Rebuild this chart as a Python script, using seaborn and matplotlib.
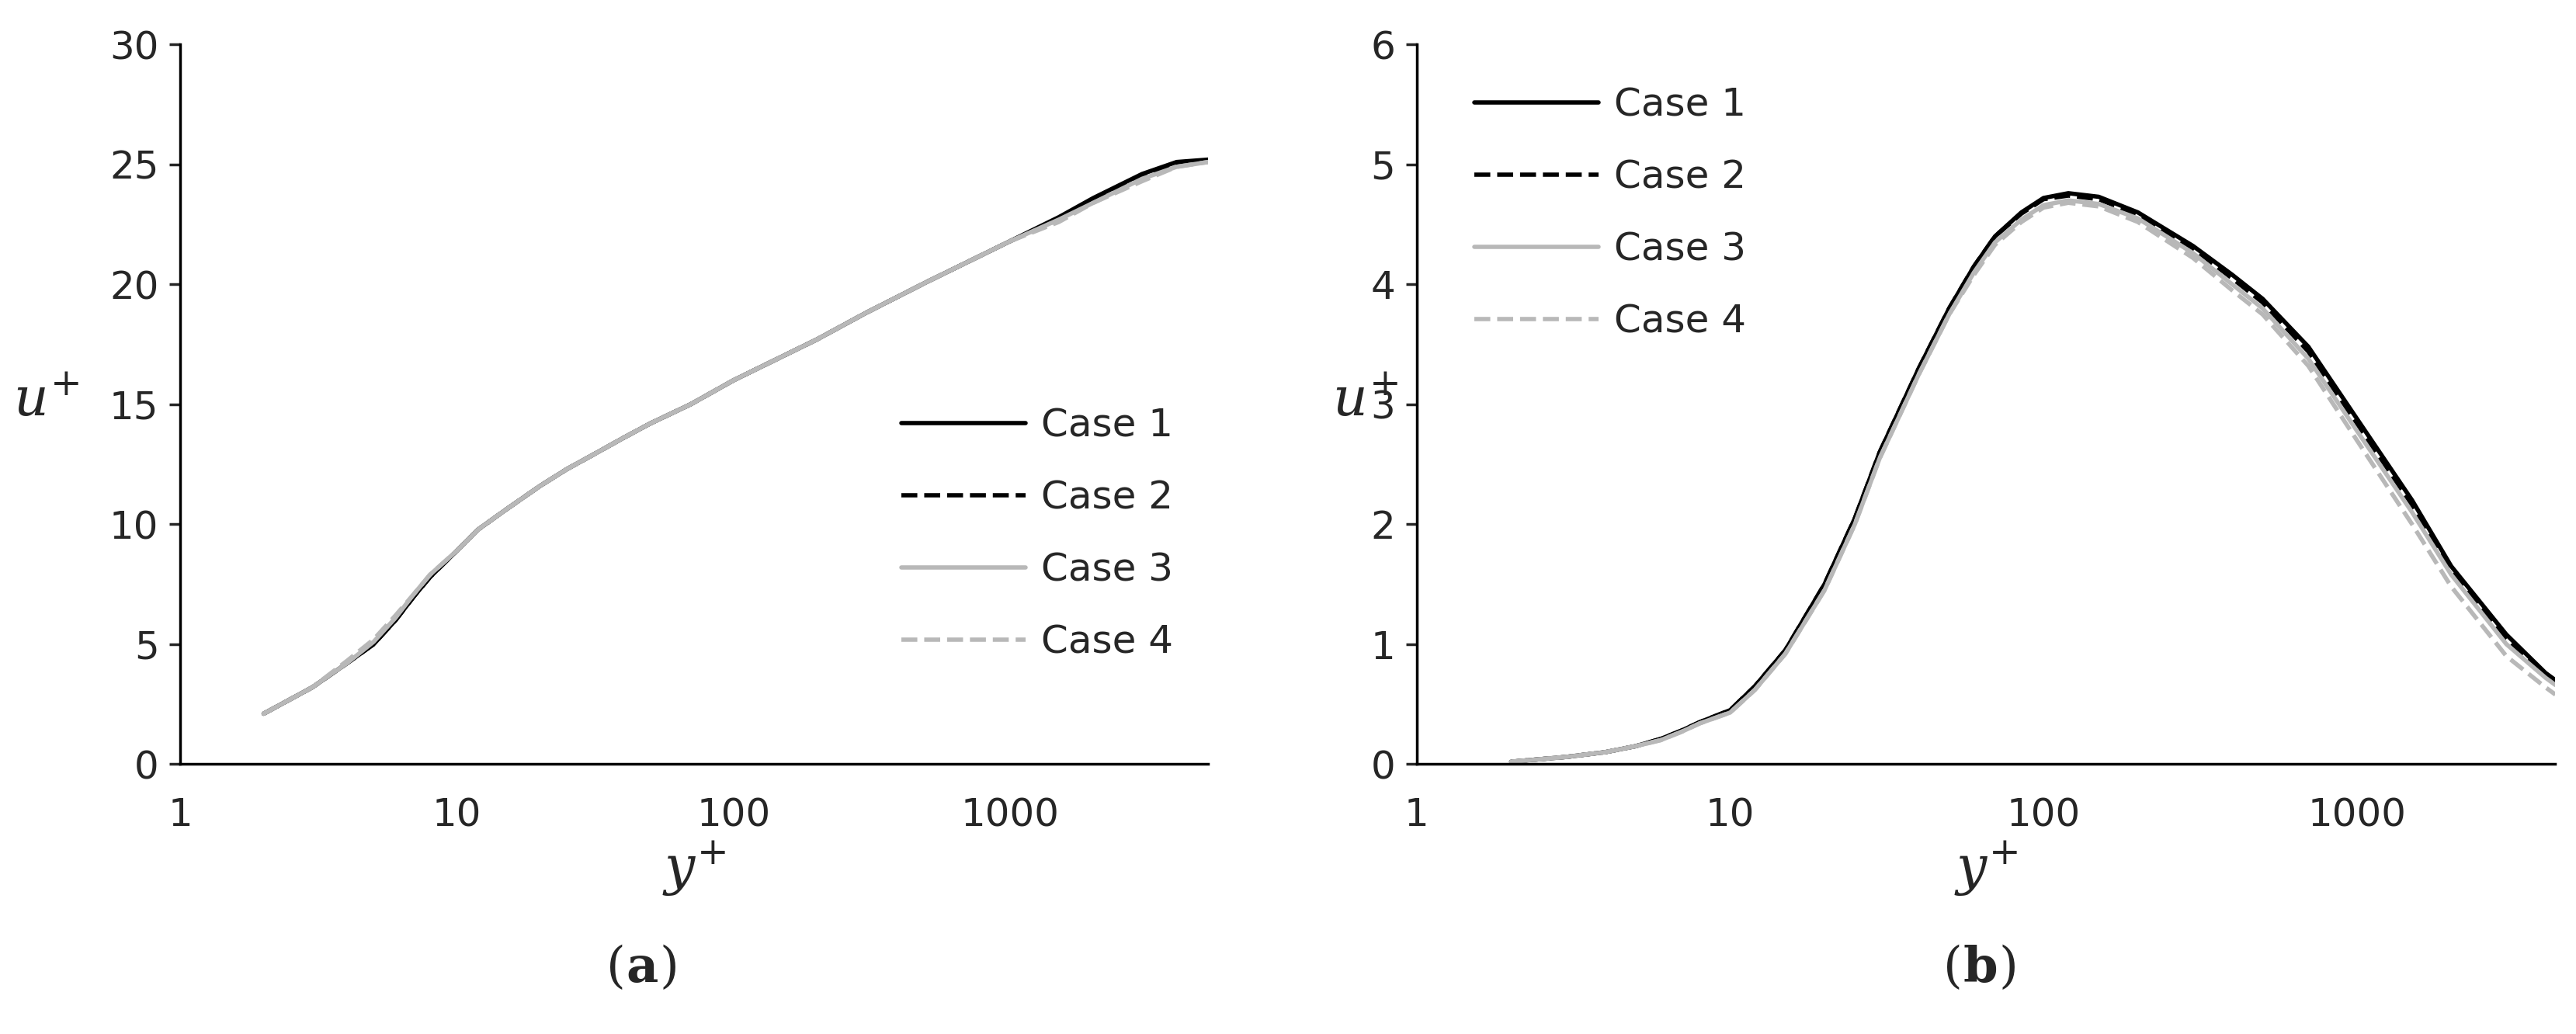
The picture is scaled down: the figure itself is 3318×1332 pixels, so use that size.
import numpy as np
import matplotlib
matplotlib.use("Agg")
import matplotlib.pyplot as plt
import seaborn as sns
import pandas as pd

sns.set_theme(style="white")
plt.rcParams['font.family'] = ['DejaVu Sans']
plt.rcParams['mathtext.fontset'] = 'dejavuserif'

ya = [2, 3, 4, 5, 6, 7, 8, 10, 12, 15, 20, 25, 30, 40, 50, 70, 100, 200, 300, 500, 1000, 1500, 2000, 3000, 4000, 5200]
ua1 = [2.1, 3.2, 4.2, 5.0, 6.0, 7.0, 7.8, 8.9, 9.8, 10.6, 11.6, 12.3, 12.8, 13.6, 14.2, 15.0, 16.0, 17.7, 18.8, 20.1, 21.8, 22.8, 23.6, 24.6, 25.1, 25.2]
ua2 = [2.1, 3.2, 4.2, 5.0, 6.0, 7.0, 7.8, 8.9, 9.8, 10.6, 11.6, 12.3, 12.8, 13.6, 14.2, 15.0, 16.0, 17.7, 18.8, 20.1, 21.8, 22.7, 23.5, 24.5, 25.0, 25.15]
ua3 = [2.1, 3.2, 4.2, 5.1, 6.1, 7.1, 7.9, 8.9, 9.8, 10.6, 11.6, 12.3, 12.8, 13.6, 14.2, 15.0, 16.0, 17.7, 18.8, 20.1, 21.8, 22.7, 23.4, 24.4, 24.9, 25.1]
ua4 = [2.1, 3.2, 4.3, 5.2, 6.2, 7.1, 7.9, 8.9, 9.8, 10.6, 11.6, 12.3, 12.8, 13.6, 14.2, 15.0, 16.0, 17.7, 18.8, 20.1, 21.8, 22.6, 23.4, 24.3, 24.9, 25.1]

yb = [2, 3, 4, 5, 6, 7, 8, 10, 12, 15, 20, 25, 30, 40, 50, 60, 70, 85, 100, 120, 150, 200, 300, 400, 500, 700, 1000, 1500, 2000, 3000, 4000, 4300]
ub1 = [0.02, 0.06, 0.1, 0.15, 0.21, 0.28, 0.35, 0.45, 0.65, 0.95, 1.5, 2.05, 2.6, 3.3, 3.8, 4.15, 4.4, 4.6, 4.72, 4.76, 4.73, 4.6, 4.32, 4.08, 3.88, 3.48, 2.88, 2.2, 1.65, 1.08, 0.76, 0.7]
ub2 = [0.02, 0.06, 0.1, 0.15, 0.21, 0.28, 0.35, 0.45, 0.65, 0.95, 1.5, 2.05, 2.6, 3.3, 3.8, 4.15, 4.4, 4.59, 4.71, 4.74, 4.71, 4.58, 4.3, 4.05, 3.85, 3.44, 2.84, 2.16, 1.62, 1.05, 0.74, 0.68]
ub3 = [0.02, 0.06, 0.1, 0.15, 0.2, 0.27, 0.34, 0.43, 0.62, 0.92, 1.45, 2.0, 2.55, 3.25, 3.75, 4.1, 4.35, 4.54, 4.66, 4.7, 4.67, 4.55, 4.26, 4.0, 3.8, 3.38, 2.78, 2.1, 1.58, 1.0, 0.72, 0.66]
ub4 = [0.02, 0.06, 0.1, 0.15, 0.2, 0.27, 0.34, 0.43, 0.62, 0.92, 1.45, 2.0, 2.55, 3.25, 3.75, 4.08, 4.33, 4.52, 4.64, 4.68, 4.65, 4.52, 4.22, 3.95, 3.75, 3.32, 2.7, 2.0, 1.48, 0.9, 0.64, 0.58]

cases = ["Case 1", "Case 2", "Case 3", "Case 4"]
colors = ["black", "black", "#b8b8b8", "#b8b8b8"]
styles = ["-", "--", "-", "--"]

fig = plt.figure(figsize=(33.18, 13.32), dpi=100)
axa = fig.add_axes([0.070, 0.261, 0.399, 0.696])
axb = fig.add_axes([0.550, 0.261, 0.442, 0.696])

def draw(ax, x, ys, xmax, ymax, legloc, anchor):
    for name, u, c, ls in zip(cases, ys, colors, styles):
        df = pd.DataFrame({"y": x, "u": u})
        sns.lineplot(data=df, x="y", y="u", ax=ax, color=c, linestyle=ls, lw=4, label=name)
    ax.set_xscale("log")
    ax.set_xlim(1, xmax)
    ax.set_ylim(0, ymax)
    ax.set_xticks([1, 10, 100, 1000])
    ax.set_xticklabels(["1", "10", "100", "1000"])
    ax.minorticks_off()
    for s in ["top", "right"]:
        ax.spines[s].set_visible(False)
    for s in ["left", "bottom"]:
        ax.spines[s].set_color("black"); ax.spines[s].set_linewidth(2.5)
    ax.tick_params(axis="y", direction="out", length=10, width=2.5, labelsize=36, pad=10, left=True)
    ax.tick_params(axis="x", length=0, labelsize=36, pad=30)
    ax.set_xlabel("$y^{+}$", fontsize=50, labelpad=5)
    ax.set_ylabel("$u^{+}$", fontsize=50, rotation=0)
    ax.legend(loc=legloc, bbox_to_anchor=anchor, frameon=False, fontsize=36,
              handlelength=3.2, labelspacing=0.9, handletextpad=0.4)

draw(axa, ya, [ua1, ua2, ua3, ua4], 5200, 30, "center right", (1.0, 0.32))
draw(axb, yb, [ub1, ub2, ub3, ub4], 4300, 6, "upper left", (0.02, 0.99))
axb.set_yticks(range(0, 7))
axa.yaxis.set_label_coords(-0.13, 0.47)
axb.yaxis.set_label_coords(-0.045, 0.47)

fig.text(0.243, 0.05, "(", fontsize=46, family="DejaVu Serif", ha="right")
fig.text(0.243, 0.05, "a", fontsize=46, family="DejaVu Serif", weight="bold", ha="left")
fig.text(0.256, 0.05, ")", fontsize=46, family="DejaVu Serif", ha="left")
fig.text(0.762, 0.05, "(", fontsize=46, family="DejaVu Serif", ha="right")
fig.text(0.762, 0.05, "b", fontsize=46, family="DejaVu Serif", weight="bold", ha="left")
fig.text(0.776, 0.05, ")", fontsize=46, family="DejaVu Serif", ha="left")

fig.savefig("out.png", dpi=100)
